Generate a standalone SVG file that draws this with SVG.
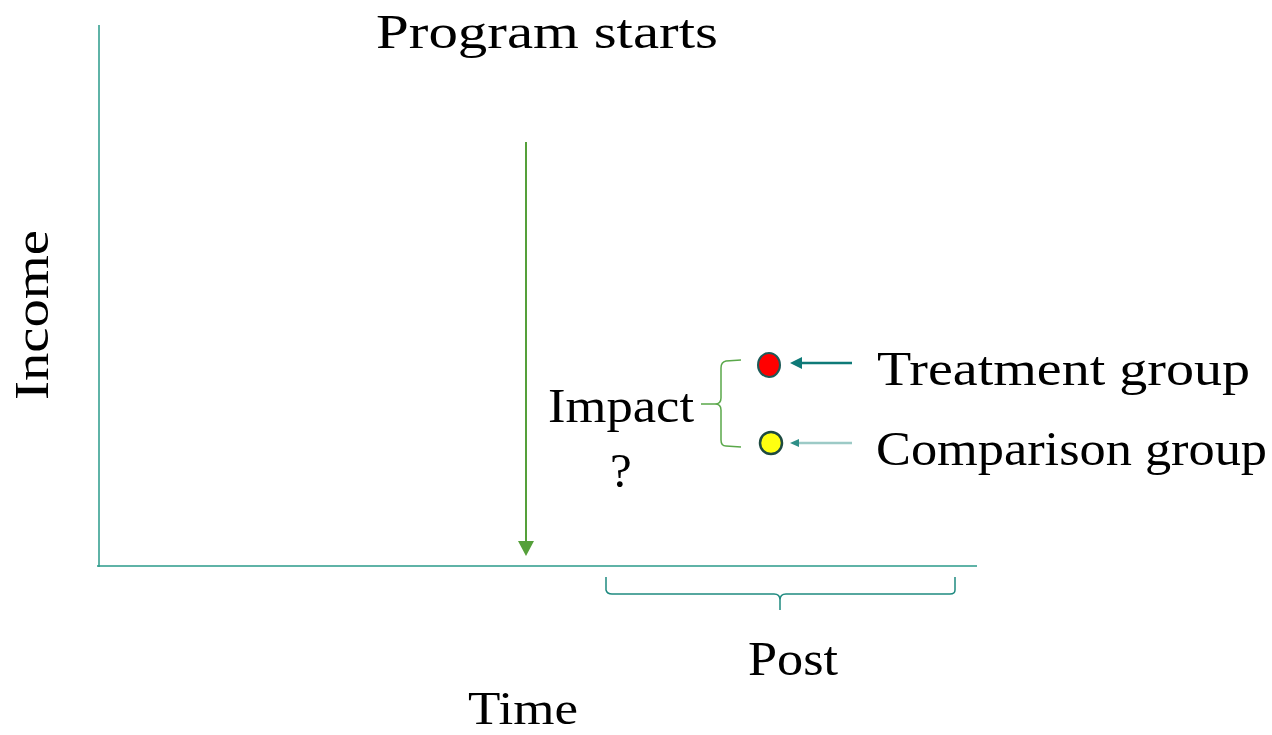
<svg xmlns="http://www.w3.org/2000/svg" width="1272" height="735" viewBox="0 0 1272 735">
<style>
text{font-family:"Liberation Serif","DejaVu Serif",serif;font-size:49px;fill:#000}
.axis{stroke:#2a9a8a;stroke-width:1.5;fill:none}
.brace{stroke:#5aa84a;stroke-width:1.5;fill:none}
.post{stroke:#1f8a80;stroke-width:1.5;fill:none}
</style>
<g id="axes">
<line class="axis" x1="99" y1="25" x2="99" y2="567"/>
<line class="axis" x1="97" y1="566" x2="977" y2="566"/>
</g>
<g id="connectors">
<line x1="526" y1="142" x2="526" y2="542" stroke="#55a03a" stroke-width="2"/>
<path d="M518,541 L534,541 L526,556 Z" fill="#55a03a"/>
<line x1="852" y1="363" x2="800" y2="363" stroke="#0f7a78" stroke-width="2.5"/>
<path d="M790,363 L802,357 L802,369 Z" fill="#0f7a78"/>
<line x1="852" y1="443" x2="798" y2="443" stroke="#9ccac6" stroke-width="2.5"/>
<path d="M790,443 L799,439 L799,447 Z" fill="#2e8f88"/>
</g>
<g id="impact-brace">
<path class="brace" d="M741,360 L726,361 Q721,362 721,368 L721,398 Q721,404 715,404 L701,404 M715,404 Q721,404 721,410 L721,440 Q721,446 726,446 L741,447"/>
</g>
<g id="post-bracket">
<path class="post" d="M606,577 L606,590 Q607,594 612,594 L774,594 Q780,594 780,600 L780,610 M780,600 Q780,594 786,594 L950,594 Q955,594 955,590 L955,577"/>
</g>
<g id="treatment-dot"><ellipse cx="769" cy="365" rx="11" ry="12" fill="#ff0000" stroke="#1d5a58" stroke-width="2"/></g>
<g id="comparison-dot"><circle cx="771" cy="443" r="11" fill="#ffff10" stroke="#1d4a40" stroke-width="2.5"/></g>
<g id="labels">
<text x="376" y="48" textLength="342" lengthAdjust="spacingAndGlyphs">Program  starts</text>
<text transform="translate(48,400) rotate(-90)" textLength="170" lengthAdjust="spacingAndGlyphs">Income</text>
<text x="548" y="422" textLength="146" lengthAdjust="spacingAndGlyphs">Impact</text>
<text x="610" y="487">?</text>
<text x="877" y="385" textLength="373" lengthAdjust="spacingAndGlyphs">Treatment group</text>
<text x="876" y="465" textLength="391" lengthAdjust="spacingAndGlyphs">Comparison group</text>
<text x="748" y="675" textLength="90" lengthAdjust="spacingAndGlyphs">Post</text>
<text x="468" y="724" style="font-size:46px" textLength="110" lengthAdjust="spacingAndGlyphs">Time</text>
</g>
</svg>
